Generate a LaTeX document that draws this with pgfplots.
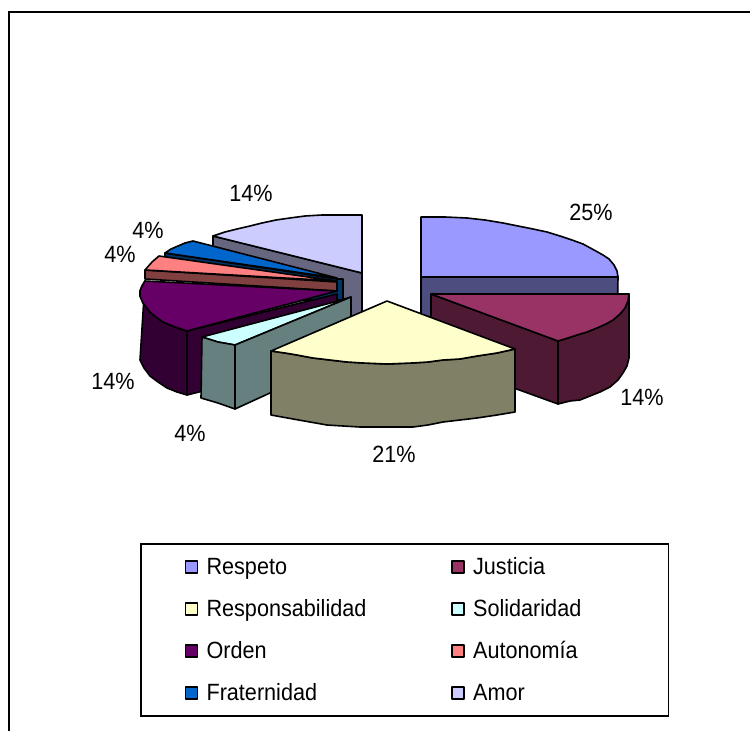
\documentclass[border=0pt]{standalone}
\usepackage{pgfplots}
\pgfplotsset{compat=1.18}
\usepackage{fontspec}
\setmainfont[FakeStretch=0.92]{Liberation Sans}
\definecolor{cA}{HTML}{9999FF}\definecolor{wA}{HTML}{4D4D80}
\definecolor{cB}{HTML}{993366}\definecolor{wB}{HTML}{4D1933}
\definecolor{cC}{HTML}{FFFFCC}\definecolor{wC}{HTML}{808066}
\definecolor{cD}{HTML}{CCFFFF}\definecolor{wD}{HTML}{668080}
\definecolor{cE}{HTML}{660066}\definecolor{wE}{HTML}{330033}
\definecolor{cF}{HTML}{FF8080}\definecolor{wF}{HTML}{804040}
\definecolor{cG}{HTML}{0066CC}\definecolor{wG}{HTML}{003366}
\definecolor{cH}{HTML}{CCCCFF}\definecolor{wH}{HTML}{666680}
\newcommand{\lab}{\fontsize{23.5}{26}\selectfont}
\begin{document}
\begin{tikzpicture}[x=1pt,y=1pt]
\path[use as bounding box] (0,0) rectangle (750,731);
\begin{axis}[
  at={(0pt,0pt)},anchor=south west,
  width=750pt,height=731pt,scale only axis,
  xmin=0,xmax=750,ymin=0,ymax=731,y dir=reverse,
  hide axis,clip=false,
  legend columns=2,
  legend cell align=left,
  legend image code/.code={\draw[#1,line width=1.5pt] (0pt,-6pt) rectangle (12pt,6pt);\path[draw=none,fill=none] (0pt,0pt) -- (19pt,0pt);},
  legend style={
    at={(axis cs:140,543)},anchor=north west,
    draw=black,line width=1.6pt,fill=white,
    font=\lab,
    inner xsep=44pt,inner ysep=12pt,
    row sep=19.3pt,
    /tikz/column 2/.style={column sep=83pt},
  },
  every axis plot/.append style={draw=black,line width=1.6pt,line join=round,forget plot},
]
% outer frame
\addplot[draw=black,line width=2pt,line join=miter] coordinates {(8.5,731) (8.5,12) (750,12)};

% Amor
\addplot[fill=wH] coordinates {(362,273) (362,336) (213,299) (213,236)} -- cycle;
\addplot[fill=cH] coordinates {(362,215) (322,215) (305,216) (290,218) (276,220) (262,223) (250,226) (237,229) (225,232) (213,236) (362,273)} -- cycle;
% Fraternidad
\addplot[fill=wG] coordinates {(165,253) (337,279) (343,279) (343,300) (300,300) (165,258)} -- cycle;
\addplot[fill=cG] coordinates {(337,278) (193,241) (185,243) (178,246) (171,249) (165,253)} -- cycle;
% Autonomia
\addplot[fill=wF] coordinates {(145,270) (337,282) (337,291) (145,279)} -- cycle;
\addplot[fill=cF] coordinates {(337,281) (159,256) (152,262) (145,270)} -- cycle;
% Orden
\addplot[fill=wE] coordinates {(187,331) (337,294) (337,358) (187,395)} -- cycle;
\addplot[fill=wE] coordinates {(145,281) (142,286) (140,291) (140,296) (143,303) (150,312) (156,317) (163,322) (175,327) (187,331) (187,395) (177,392) (167,388) (158,382) (150,376) (144,368) (140,360)} -- cycle;
\addplot[fill=cE] coordinates {(337,291) (145,281) (142,286) (140,291) (140,296) (143,303) (150,312) (156,317) (163,322) (175,327) (187,331)} -- cycle;
% Respeto
\addplot[fill=wA] coordinates {(421,277) (618,277) (617,340) (421,340)} -- cycle;
\addplot[fill=cA] coordinates {(421,217) (445,217) (467,218) (485,220) (503,223) (518,226) (533,229) (547,232) (560,236) (572,240) (583,244) (594,250) (603,255) (609,259) (614,265) (617,271) (618,277) (421,277)} -- cycle;
% Justicia
\addplot[fill=wB] coordinates {(431,294) (558,341) (558,404) (431,358)} -- cycle;
\addplot[fill=wB] coordinates {(558,341) (568,338) (577,335) (587,332) (597,328) (606,324) (613,320) (620,314) (625,308) (628,301) (629,294) (629,358) (627,366) (623,373) (618,380) (610,387) (600,392) (590,396) (580,400) (570,401) (558,404)} -- cycle;
\addplot[fill=cB] coordinates {(431,294) (629,294) (628,301) (625,308) (620,314) (613,320) (606,324) (597,328) (587,332) (577,335) (568,338) (558,341)} -- cycle;
% Solidaridad
\addplot[fill=cD] coordinates {(202,337) (338,301) (351,297) (235,345) (218,342)} -- cycle;
\addplot[fill=wD] coordinates {(235,345) (351,297) (351,356) (235,409)} -- cycle;
\addplot[fill=wD] coordinates {(202,337) (218,342) (235,345) (235,409) (218,403) (201,398)} -- cycle;
% Responsabilidad
\addplot[fill=wC] coordinates {(271,351) (285,353) (297,355) (313,358) (330,360) (347,362) (363,363) (387,364) (412,363) (428,362) (443,360) (460,359) (477,356) (497,353) (515,349) (515,412) (497,415) (477,418) (460,420) (443,422) (428,425) (413,427) (387,427) (360,427) (343,426) (327,425) (310,422) (293,419) (271,415)} -- cycle;
\addplot[fill=cC] coordinates {(387,301) (515,349) (497,353) (477,356) (460,359) (443,360) (428,362) (412,363) (387,364) (363,363) (347,362) (330,360) (313,358) (297,355) (285,353) (271,351)} -- cycle;

% legend
\addlegendimage{fill=cA}\addlegendentry{Respeto}
\addlegendimage{fill=cB}\addlegendentry{Justicia}
\addlegendimage{fill=cC}\addlegendentry{Responsabilidad}
\addlegendimage{fill=cD}\addlegendentry{Solidaridad\hspace*{41pt}}
\addlegendimage{fill=cE}\addlegendentry{Orden}
\addlegendimage{fill=cF}\addlegendentry{Autonomía}
\addlegendimage{fill=cG}\addlegendentry{Fraternidad}
\addlegendimage{fill=cH}\addlegendentry{Amor}

% labels
\node at (axis cs:591,212) {\lab 25\%};
\node at (axis cs:642,397) {\lab 14\%};
\node at (axis cs:394,454) {\lab 21\%};
\node at (axis cs:190,433) {\lab 4\%};
\node at (axis cs:113,381) {\lab 14\%};
\node at (axis cs:120,254) {\lab 4\%};
\node at (axis cs:148,230) {\lab 4\%};
\node at (axis cs:251,193) {\lab 14\%};
\end{axis}
\end{tikzpicture}
\end{document}
